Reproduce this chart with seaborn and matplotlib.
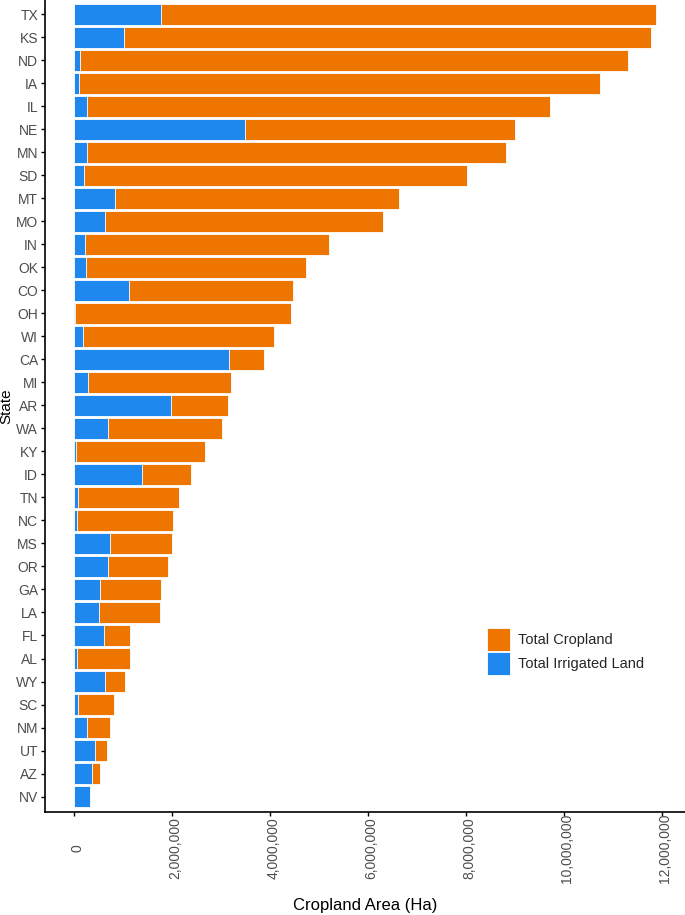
import matplotlib
matplotlib.use("Agg")
import matplotlib.pyplot as plt
import matplotlib.transforms as mtransforms
import seaborn as sns
import pandas as pd
from matplotlib.patches import Patch
from matplotlib.ticker import FuncFormatter

states = ["TX", "KS", "ND", "IA", "IL", "NE", "MN", "SD", "MT", "MO", "IN", "OK",
          "CO", "OH", "WI", "CA", "MI", "AR", "WA", "KY", "ID", "TN", "NC", "MS",
          "OR", "GA", "LA", "FL", "AL", "WY", "SC", "NM", "UT", "AZ", "NV"]
total_cropland = [11.87, 11.77, 11.30, 10.73, 9.71, 9.00, 8.81, 8.01, 6.63, 6.31, 5.21, 4.73,
                  4.47, 4.43, 4.08, 3.87, 3.21, 3.15, 3.02, 2.68, 2.39, 2.14, 2.02, 2.00,
                  1.915, 1.764, 1.755, 1.14, 1.14, 1.042, 0.82, 0.74, 0.668, 0.526, 0.30]
irrigated = [1.77, 1.015, 0.116, 0.098, 0.26, 3.48, 0.26, 0.196, 0.837, 0.624, 0.232, 0.24,
             1.12, 0.027, 0.187, 3.16, 0.276, 1.97, 0.686, 0.035, 1.38, 0.071, 0.053, 0.74,
             0.686, 0.526, 0.50, 0.614, 0.053, 0.632, 0.089, 0.26, 0.436, 0.365, 0.32]

df = pd.DataFrame({
    "State": states,
    "Total Cropland": [v * 1e6 for v in total_cropland],
    "Total Irrigated Land": [v * 1e6 for v in irrigated],
})

sns.set_style("white")
plt.rcParams["font.family"] = ["Liberation Sans", "DejaVu Sans"]

ORANGE = "#EE7600"
BLUE = "#1E88EE"

fig = plt.figure(figsize=(6.85, 9.15), dpi=100)
ax = fig.add_axes([0.0657, 0.1126, 0.9343, 0.8874])

sns.barplot(data=df, y="State", x="Total Cropland", order=states, orient="h",
            color=ORANGE, saturation=1, width=0.92, edgecolor="white", linewidth=0.6, ax=ax)
sns.barplot(data=df, y="State", x="Total Irrigated Land", order=states, orient="h",
            color=BLUE, saturation=1, width=0.92, edgecolor="white", linewidth=0.6, ax=ax)

ax.set_xlim(-0.594e6, 12.465e6)
ax.set_ylim(len(states) - 1 + 0.67, -0.62)
ax.set_xticks([0, 2e6, 4e6, 6e6, 8e6, 10e6, 12e6])
ax.xaxis.set_major_formatter(FuncFormatter(lambda v, p: f"{int(round(v)):,}"))

for s in ["top", "right"]:
    ax.spines[s].set_visible(False)
for s in ["left", "bottom"]:
    ax.spines[s].set_color("black")
    ax.spines[s].set_linewidth(1.2)

ax.tick_params(axis="both", which="both", length=3, width=1, color="black",
               labelcolor="#4D4D4D", labelsize=10, left=True, bottom=True)
ax.tick_params(axis="y", pad=2)
ax.tick_params(axis="x", pad=23)
offset = mtransforms.ScaledTranslation(3 / 100, 0, fig.dpi_scale_trans)
for lab in ax.get_xticklabels():
    lab.set_rotation(90)
    lab.set_va("center")
    lab.set_ha("center")
    lab.set_transform(lab.get_transform() + offset)

ax.set_xlabel("Cropland Area (Ha)", fontsize=12, color="black")
ax.set_ylabel("State", fontsize=11, color="black", labelpad=2)
ax.xaxis.set_label_coords(0.5, -0.115)
ax.xaxis.label.set_va("center")

handles = [Patch(facecolor=ORANGE, edgecolor="white", linewidth=0.6, label="Total Cropland"),
           Patch(facecolor=BLUE, edgecolor="white", linewidth=0.6, label="Total Irrigated Land")]
fig.legend(handles=handles, loc="upper left", bbox_to_anchor=(487 / 685, 1 - 628 / 915),
           bbox_transform=fig.transFigure, frameon=False, fontsize=10.5,
           handlelength=1.58, handleheight=2.05, handletextpad=0.55,
           labelspacing=0.06, borderpad=0, borderaxespad=0)

fig.savefig("out.png", dpi=100)
